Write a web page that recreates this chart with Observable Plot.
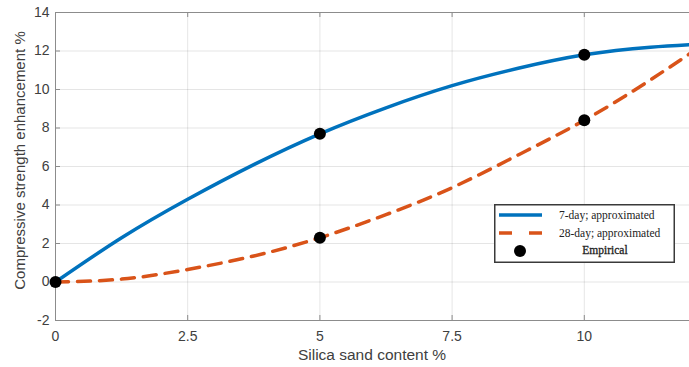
<!DOCTYPE html>
<html>
<head>
<meta charset="utf-8">
<script src="https://cdn.jsdelivr.net/npm/d3@7"></script>
<script src="https://cdn.jsdelivr.net/npm/@observablehq/plot@0.6"></script>
<style>
  html, body { margin: 0; padding: 0; background: #fff; }
  #wrap { position: relative; width: 689px; height: 367px; overflow: hidden; }
  #chart svg { max-width: none !important; }
  #legend { position: absolute; left: 494px; top: 204px; }
</style>
</head>
<body>
<div id="wrap">
  <div id="chart"></div>
  <svg id="legend" width="181" height="59">
    <rect x="0.75" y="0.75" width="179.5" height="57.5" fill="#fff" stroke="#3a3a3a" stroke-width="1.5"/>
    <line x1="5" x2="48" y1="11" y2="11" stroke="#0072BD" stroke-width="3.5"/>
    <line x1="5" x2="48" y1="29" y2="29" stroke="#D95319" stroke-width="3.5" stroke-dasharray="13,17"/>
    <circle cx="26" cy="47" r="6" fill="#000"/>
    <g font-family="'Liberation Serif', 'DejaVu Serif', serif" font-size="11.5" fill="#222">
      <text x="65" y="14.5">7-day; approximated</text>
      <text x="65" y="32.5">28-day; approximated</text>
      <text x="111" y="50" text-anchor="middle" stroke="#222" stroke-width="0.3">Empirical</text>
    </g>
  </svg>
</div>
<script>
const xTicks = [0, 2.5, 5, 7.5, 10, 12.5];
const yTicks = [-2, 0, 2, 4, 6, 8, 10, 12, 14];

const day7X = [0, 1.25, 2.5, 3.75, 5, 6.25, 7.5, 8.75, 10, 11.25, 12.5];
const day7Y = [0, 2.3, 4.3, 6.1, 7.7, 9.05, 10.2, 11.1, 11.8, 12.2, 12.4];

const day28X = [0, 1.25, 2.5, 3.75, 5, 6.25, 7.5, 8.75, 10, 11.25, 12.5];
const day28Y = [0, 0.15, 0.65, 1.35, 2.3, 3.5, 4.9, 6.6, 8.4, 10.5, 12.8];

const empX = [0, 5, 5, 10, 10];
const empY = [0, 7.7, 2.3, 11.8, 8.4];

const d7 = day7X.map((x, i) => ({x, y: day7Y[i]}));
const d28 = day28X.map((x, i) => ({x, y: day28Y[i]}));
const emp = empX.map((x, i) => ({x, y: empY[i]}));

const fmt = d => String(d);

const chart = Plot.plot({
  width: 740,
  height: 367,
  marginLeft: 55,
  marginRight: 24,
  marginTop: 12,
  marginBottom: 47,
  x: {domain: [0, 12.5]},
  y: {domain: [-2, 14]},
  style: {fontFamily: "'Liberation Sans', Arial, sans-serif", fontSize: "14px", color: "#404040", background: "#fff"},
  marks: [
    Plot.gridX(xTicks, {stroke: "#000", strokeOpacity: 0.1}),
    Plot.gridY(yTicks, {stroke: "#000", strokeOpacity: 0.1}),
    Plot.frame({stroke: "#8c8c8c"}),
    Plot.ruleX(xTicks, {y1: -2, y2: -2, insetTop: -5, stroke: "#8c8c8c"}),
    Plot.ruleX(xTicks, {y1: 14, y2: 14, insetBottom: -5, stroke: "#8c8c8c"}),
    Plot.ruleY(yTicks, {x1: 0, x2: 0, insetRight: -5, stroke: "#8c8c8c"}),
    Plot.axisX(xTicks, {tickSize: 0, tickPadding: 11, tickFormat: fmt, label: null, fontSize: 14}),
    Plot.axisY(yTicks, {tickSize: 0, tickPadding: 6, tickFormat: fmt, label: null, fontSize: 14}),
    Plot.text(["Silica sand content %"], {frameAnchor: "bottom", textAnchor: "middle", dx: -14, dy: 39, fontSize: 15.5, fill: "#404040"}),
    Plot.text(["Compressive strength enhancement %"], {frameAnchor: "left", textAnchor: "middle", rotate: -90, dx: -35, dy: -6, fontSize: 15, fill: "#404040"}),
    Plot.line(d28, {x: "x", y: "y", curve: "natural", stroke: "#D95319", strokeWidth: 3.5, strokeDasharray: "13,9"}),
    Plot.line(d7, {x: "x", y: "y", curve: "natural", stroke: "#0072BD", strokeWidth: 3.5}),
    Plot.dot(emp, {x: "x", y: "y", r: 6, fill: "#000"})
  ]
});
document.getElementById("chart").appendChild(chart);
</script>
</body>
</html>
